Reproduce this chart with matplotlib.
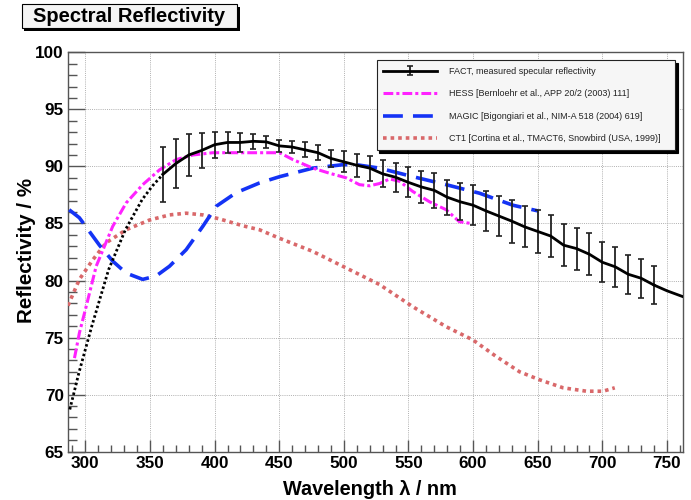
import matplotlib
matplotlib.use("Agg")
import matplotlib.pyplot as plt
from matplotlib.patches import Rectangle
from matplotlib.ticker import MultipleLocator

plt.rcParams['font.family'] = ['Liberation Sans', 'DejaVu Sans']

# ---------------- data ----------------
fact_wl = [360, 370, 380, 390, 400, 410, 420, 430, 440, 450,
           460, 470, 480, 490, 500, 510, 520, 530, 540, 550,
           560, 570, 580, 590, 600, 610, 620, 630, 640, 650,
           660, 670, 680, 690, 700, 710, 720, 730, 740]
fact_val = [89.3, 90.25, 91.0, 91.4, 91.9, 92.1, 92.1, 92.2, 92.15, 91.8,
            91.7, 91.45, 91.2, 90.7, 90.4, 90.1, 89.85, 89.35, 89.05, 88.6,
            88.2, 87.9, 87.3, 86.9, 86.6, 86.1, 85.65, 85.2, 84.7, 84.3,
            83.9, 83.1, 82.8, 82.3, 81.6, 81.2, 80.55, 80.2, 79.6]
fact_err = [2.4, 2.15, 1.8, 1.5, 1.15, 0.9, 0.8, 0.67, 0.55, 0.5,
            0.5, 0.65, 0.66, 0.74, 0.91, 1.0, 1.1, 1.18, 1.25, 1.32,
            1.4, 1.54, 1.54, 1.62, 1.76, 1.72, 1.76, 1.9, 1.8, 1.85,
            1.8, 1.84, 1.84, 1.84, 1.76, 1.76, 1.72, 1.7, 1.65]
# extrapolation of the FACT fit
fact_low_wl = [288, 295, 305, 318, 331, 344, 352, 360]
fact_low_val = [68.7, 71.9, 76.0, 80.95, 84.45, 87.1, 88.3, 89.3]
fact_high_wl = [740, 750, 762]
fact_high_val = [79.6, 79.1, 78.6]

hess_wl = [291.6, 295.4, 300.6, 308.4, 321.2, 331.6, 344.4, 357.4, 370.3, 383.1,
           398.6, 414.1, 434.7, 450.3, 460.5, 476, 489, 501.8, 512.1, 519.9,
           527.6, 535.4, 543, 553.4, 566.3, 579.2, 589.4, 598.5]
hess_val = [73.2, 75.4, 77.7, 81.25, 84.75, 86.8, 88.4, 89.7, 90.6, 91.0,
            91.2, 91.2, 91.2, 91.2, 90.6, 89.85, 89.4, 89.0, 88.4, 88.3,
            88.5, 88.9, 88.7, 87.8, 86.9, 86.2, 85.15, 85.0]

magic_wl = [287.5, 295.4, 310.9, 321.2, 331.6, 344.4, 354.8, 365.1, 378, 390.9,
            401.2, 416.7, 434.7, 450.3, 476, 499.2, 509.6, 527.6, 553.4, 579.2,
            605, 630.8, 650.2]
magic_val = [86.2, 85.5, 83.1, 81.7, 80.65, 80.1, 80.4, 81.25, 82.7, 84.75,
             86.5, 87.7, 88.55, 89.1, 89.85, 90.15, 90.15, 89.85, 89.1, 88.4,
             87.65, 86.6, 86.1]

ct1_wl = [286.6, 295.4, 305.7, 316, 331.6, 349.6, 365.1, 378, 390.9, 403.8,
          421.8, 434.7, 450.3, 476, 501.8, 527.6, 553.4, 579.2, 599.8, 617.8,
          636, 651.5, 669.6, 687.7, 700.5, 709.6]
ct1_val = [77.8, 80.1, 81.8, 83.3, 84.45, 85.3, 85.75, 85.9, 85.75, 85.4,
           84.8, 84.45, 83.7, 82.55, 81.1, 79.65, 77.7, 75.95, 74.8, 73.35,
           72.0, 71.3, 70.6, 70.3, 70.3, 70.6]

labels = ["FACT, measured specular reflectivity",
          "HESS [Bernloehr et al., APP 20/2 (2003) 111]",
          "MAGIC [Bigongiari et al., NIM-A 518 (2004) 619]",
          "CT1 [Cortina et al., TMACT6, Snowbird (USA, 1999)]"]

# ---------------- figure ----------------
W, H = 691, 500
fig = plt.figure(figsize=(W / 100, H / 100), dpi=100)
fig.patch.set_facecolor('white')
ax = fig.add_axes([68 / W, 1 - 451.7 / H, (682.5 - 68) / W, (451.7 - 52.3) / H])

ax.set_xlim(286.6, 762)
ax.set_ylim(65, 100)

ct1_c = '#d9686a'
magic_c = '#1433f5'
hess_c = '#ff22ff'

ax.plot(ct1_wl, ct1_val, color=ct1_c, lw=2.6, ls=(0, (1.0, 1.1)), label=labels[3], zorder=3)
ax.plot(magic_wl, magic_val, color=magic_c, lw=2.6, ls=(0, (5.5, 2.8)), label=labels[2], zorder=3)
ax.plot(hess_wl, hess_val, color=hess_c, lw=2.2, ls=(0, (3.2, 1.0, 1.0, 1.0)), label=labels[1], zorder=3)
ax.plot(fact_low_wl, fact_low_val, color='black', lw=2.0, ls=(0, (0.9, 0.9)), zorder=4)
ax.plot(fact_high_wl, fact_high_val, color='black', lw=2.0, zorder=4)
eb = ax.errorbar(fact_wl, fact_val, yerr=fact_err, fmt='-', color='black', lw=2.0,
                 elinewidth=1.3, capsize=2, capthick=1.2, ecolor='#222222',
                 label=labels[0], zorder=5)

# ticks and grid
ax.xaxis.set_major_locator(MultipleLocator(50))
ax.xaxis.set_minor_locator(MultipleLocator(10))
ax.yaxis.set_major_locator(MultipleLocator(5))
ax.yaxis.set_minor_locator(MultipleLocator(1))
ax.tick_params(axis='x', which='major', direction='in', length=9, width=1, color='#555555', pad=3)
ax.tick_params(axis='x', which='minor', direction='in', length=4.7, width=1, color='#555555')
ax.tick_params(axis='y', which='major', direction='in', length=12, width=1, color='#555555', pad=3)
ax.tick_params(axis='y', which='minor', direction='in', length=6.3, width=1, color='#555555')
for lab in ax.get_xticklabels() + ax.get_yticklabels():
    lab.set_fontweight('bold')
    lab.set_fontsize(12.3)
ax.grid(True, which='major', color='#b0b0b0', ls=(0, (1, 1.2)), lw=0.7)
ax.set_axisbelow(True)
for sp in ax.spines.values():
    sp.set_color('#555555')
    sp.set_linewidth(1.0)

ax.set_xlabel("Wavelength λ / nm", fontsize=14.3, fontweight='bold')
ax.xaxis.set_label_coords(0.492, -0.070)
ax.set_ylabel("Reflectivity / %", fontsize=14.8, fontweight='bold')
ax.yaxis.set_label_coords(-0.052, 0.505)

# legend
handles, labs = ax.get_legend_handles_labels()
order = [labs.index(l) for l in labels]
leg = ax.legend([handles[i] for i in order], [labs[i] for i in order],
                loc='upper left',
                bbox_to_anchor=(376.7 / W, 1 - 60 / H, (675 - 376.7) / W, 0.0),
                bbox_transform=fig.transFigure, mode='expand',
                fontsize=6.5, handlelength=5.9, handletextpad=1.35,
                labelspacing=1.5, borderpad=0.75, borderaxespad=0,
                frameon=True, fancybox=False, edgecolor='#222222',
                facecolor='#f6f6f6', framealpha=1,
                shadow={'color': 'black', 'alpha': 1})
leg.get_frame().set_linewidth(0.8)
for t in leg.get_texts():
    t.set_color('#222222')

# title box
fig.patches.append(Rectangle((24.5 / W, 1 - 31 / H), (239.5 - 24.5) / W, (31 - 7) / H,
                             transform=fig.transFigure, facecolor='black', edgecolor='none', zorder=5))
fig.patches.append(Rectangle((21.7 / W, 1 - 28.3 / H), (236.7 - 21.7) / W, (28.3 - 4) / H,
                             transform=fig.transFigure, facecolor='#f4f4f4', edgecolor='black',
                             lw=0.8, zorder=6))
fig.text(129 / W, 1 - 16.5 / H, "Spectral Reflectivity", fontsize=14.5, fontweight='bold',
         ha='center', va='center', zorder=7)

fig.savefig('out.png', dpi=100)
